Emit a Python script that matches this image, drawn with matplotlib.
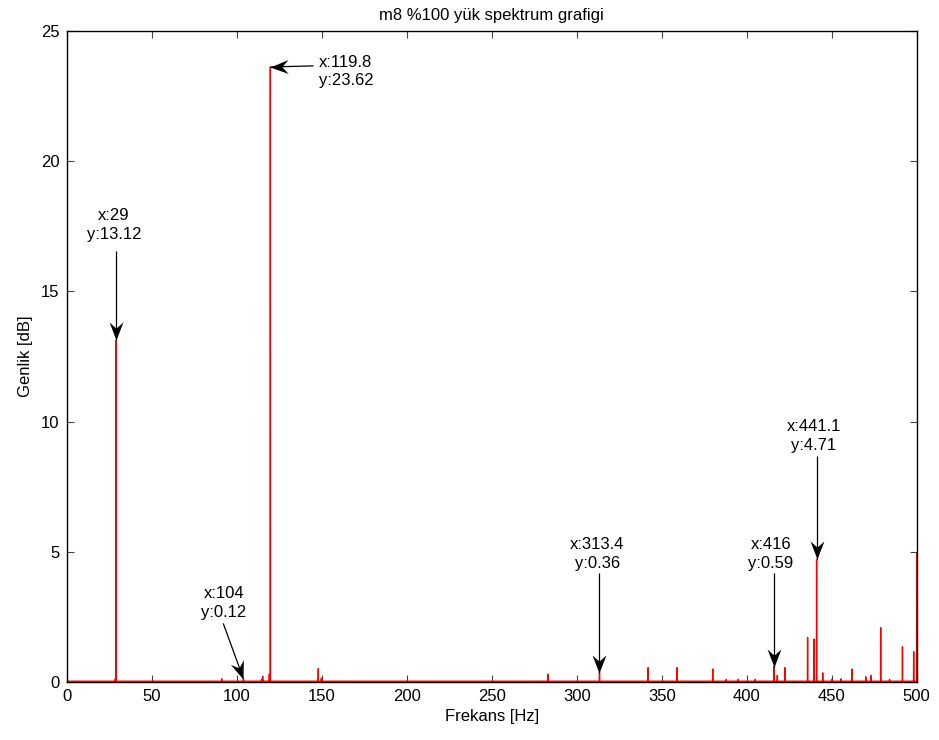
import numpy as np
import matplotlib
matplotlib.use("Agg")
import matplotlib.pyplot as plt
from matplotlib.markers import MarkerStyle
from matplotlib.path import Path
from matplotlib.transforms import Affine2D

plt.rcParams['font.family'] = ['Liberation Sans', 'DejaVu Sans']

# Spectrum content: frequency resolution, noise floor and the visible spectral lines
freq_step = 0.1
noise_floor = 0.03
peak_freqs = [28.6, 29.0, 91.2, 104.0, 114.6, 115.3, 119.2, 119.8, 148.0, 149.8,
              283.0, 313.4, 342.0, 359.0, 380.0, 388.0, 395.0, 405.0,
              416.0, 418.0, 422.5, 435.8, 439.6, 441.1, 444.7, 450.0,
              455.5, 461.8, 470.0, 473.0, 478.8, 484.0, 491.6, 498.2, 500.0]
peak_amps = [0.12, 13.12, 0.12, 0.12, 0.1, 0.22, 0.3, 23.62, 0.51, 0.15,
             0.3, 0.36, 0.55, 0.55, 0.5, 0.1, 0.1, 0.1,
             0.59, 0.25, 0.55, 1.71, 1.65, 4.71, 0.35, 0.1,
             0.12, 0.5, 0.2, 0.25, 2.08, 0.1, 1.35, 1.16, 4.94]

# Data tips: marked point, label position and arrow tail
tip_x = [29.0, 119.8, 104.0, 313.4, 416.0, 441.1]
tip_y = [13.12, 23.62, 0.12, 0.36, 0.59, 4.71]
label_x = [27.8, 148.4, 92.6, 312.0, 414.2, 439.6]
label_y = [17.55, 23.45, 3.03, 4.92, 4.92, 9.45]
label_ha = ['center', 'left', 'center', 'center', 'center', 'center']
tail_x = [29.0, 145.2, 92.1, 313.4, 416.0, 441.1]
tail_y = [16.55, 23.66, 2.25, 4.17, 4.17, 8.67]

freqs = np.round(np.arange(0, 500 + freq_step / 2, freq_step), 1)
amps = np.full(freqs.shape, noise_floor)
idx = np.round(np.array(peak_freqs) / freq_step).astype(int)
amps[idx] = peak_amps

fs = 12

fig = plt.figure(figsize=(9.39, 7.40), dpi=100)
ax = fig.add_axes([0.0710, 0.0784, 0.9053, 0.8797])
ax.plot(freqs, amps, color='red', lw=1.0, zorder=2)

ax.set_xlim(0, 500)
ax.set_ylim(0, 25)
ax.set_xticks(np.arange(0, 501, 50))
ax.set_yticks(np.arange(0, 26, 5))
ax.tick_params(direction='in', length=5, width=0.8, color='#444444',
               top=True, right=True, labelsize=fs, pad=5)
for s in ax.spines.values():
    s.set_linewidth(1.0)
ax.set_title('m8 %100 yük spektrum grafigi', fontsize=fs, pad=8)
ax.set_xlabel('Frekans [Hz]', fontsize=fs, labelpad=4)
ax.set_ylabel('Genlik [dB]', fontsize=fs, labelpad=6)

# Arrow head: tip at origin, pointing along +x, with a notched back
head_path = Path([(0, 0), (-1.3, 0.5), (-0.85, 0), (-1.3, -0.5), (0, 0)],
                 [Path.MOVETO, Path.LINETO, Path.LINETO, Path.LINETO, Path.CLOSEPOLY])

for tx, ty, lx, ly, ha, sx, sy in zip(tip_x, tip_y, label_x, label_y,
                                      label_ha, tail_x, tail_y):
    lbl = f"x:{tx:g}\ny:{ty:g}"
    ax.text(lx, ly, lbl, ha=ha, va='center', fontsize=fs, linespacing=1.3,
            zorder=4)
    ax.plot([sx, tx], [sy, ty], color='black', lw=0.9, zorder=3,
            solid_capstyle='butt')
    p0 = ax.transData.transform((sx, sy))
    p1 = ax.transData.transform((tx, ty))
    ang = np.degrees(np.arctan2(p1[1] - p0[1], p1[0] - p0[0]))
    mk = MarkerStyle(head_path, transform=Affine2D().rotate_deg(ang))
    ax.plot([tx], [ty], marker=mk, markersize=26, color='black',
            markeredgewidth=0, linestyle='none', zorder=5, clip_on=False)

fig.savefig('out.png', dpi=100)
